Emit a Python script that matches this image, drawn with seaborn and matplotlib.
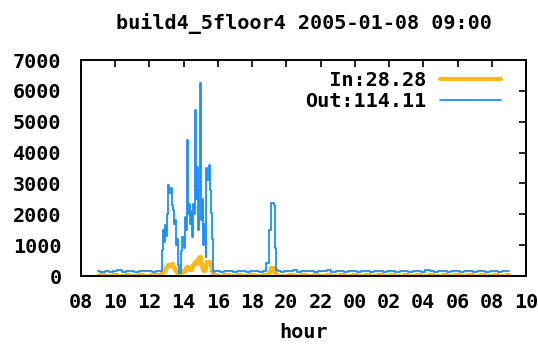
import pandas as pd
import numpy as np
import matplotlib.pyplot as plt
import seaborn as sns

# hours since midnight of 2005-01-08 (values > 24 are the next day)
hours = [9.0, 9.25, 9.5, 9.75, 10.0, 10.25, 10.5, 10.75, 11.0, 11.25, 11.5, 11.75,
         12.0, 12.25, 12.5, 12.65,
         12.76, 12.82, 12.88, 12.94, 13.0, 13.06, 13.12, 13.2, 13.26, 13.32,
         13.38, 13.44, 13.5, 13.56, 13.62, 13.7, 13.8, 13.9, 13.96, 14.02,
         14.08, 14.14, 14.2, 14.26, 14.32, 14.38, 14.44, 14.5, 14.56, 14.62,
         14.66, 14.72, 14.78, 14.84, 14.9, 14.96, 15.02, 15.08, 15.14, 15.2,
         15.26, 15.3, 15.36, 15.42, 15.48, 15.54, 15.6, 15.66, 15.72, 15.85,
         16.0, 16.25, 16.5, 16.75, 17.0, 17.25, 17.5, 17.75, 18.0, 18.25, 18.5, 18.75,
         18.9, 19.05, 19.2, 19.3, 19.35, 19.45, 19.6, 19.75,
         20.0, 20.25, 20.5, 20.75, 21.0, 21.25, 21.5, 21.75, 22.0, 22.25, 22.5, 22.75,
         23.0, 23.25, 23.5, 23.75, 24.0, 24.25, 24.5, 24.75, 25.0, 25.25, 25.5, 25.75,
         26.0, 26.25, 26.5, 26.75, 27.0, 27.25, 27.5, 27.75, 28.0, 28.25, 28.5, 28.75,
         29.0, 29.25, 29.5, 29.75, 30.0, 30.25, 30.5, 30.75, 31.0, 31.25, 31.5, 31.75,
         32.0, 32.25, 32.5, 32.75, 33.0]

out_kb = [150, 130, 170, 140, 160, 180, 140, 150, 170, 140, 160, 150,
          170, 140, 150, 160,
          840, 1500, 1100, 1650, 1300, 2000, 2950, 2700, 2850, 2300,
          2140, 1700, 1800, 1000, 1200, 360, 110, 800, 1270, 900,
          1920, 1500, 4400, 2000, 2340, 1700, 2100, 1270, 2340, 2000,
          5380, 2500, 3540, 1480, 2800, 6240, 1800, 2500, 1000, 1700,
          1200, 630, 3500, 3100, 3600, 2800, 2030, 1200, 120, 150,
          160, 140, 150, 170, 140, 150, 160, 140, 150, 170, 140, 160,
          420, 1490, 2360, 2300, 900, 200, 150, 140,
          160, 150, 190, 140, 160, 150, 170, 140, 160, 150, 180, 140,
          150, 160, 140, 150, 170, 140, 150, 160, 140, 150, 170, 140,
          160, 150, 140, 170, 150, 140, 160, 150, 140, 180, 150, 140,
          160, 150, 140, 170, 150, 140, 160, 150, 140, 170, 150, 140,
          160, 150, 140, 170, 150]

in_kb = [10, 20, 10, 15, 20, 10, 15, 20, 10, 15, 20, 10,
         15, 20, 10, 30,
         100, 150, 120, 200, 250, 300, 360, 330, 350, 380,
         300, 250, 200, 150, 100, 60, 30, 100, 150, 120,
         200, 250, 300, 250, 200, 250, 200, 280, 350, 400,
         450, 400, 450, 550, 500, 600, 400, 300, 200, 150,
         200, 250, 400, 460, 450, 420, 300, 150, 60, 20,
         10, 15, 20, 10, 15, 20, 10, 15, 20, 10, 15, 20,
         40, 120, 260, 230, 100, 30, 15, 10,
         15, 20, 10, 15, 20, 10, 15, 20, 10, 15, 20, 10,
         15, 20, 10, 15, 20, 10, 15, 20, 10, 15, 20, 10,
         15, 20, 10, 15, 20, 10, 15, 20, 10, 15, 20, 10,
         15, 20, 10, 15, 20, 10, 15, 20, 10, 15, 20, 10,
         15, 20, 10, 15, 20]

x_ticks = [8, 10, 12, 14, 16, 18, 20, 22, 24, 26, 28, 30, 32, 34]
x_labels = ["08", "10", "12", "14", "16", "18", "20", "22", "00", "02", "04", "06", "08", "10"]
y_ticks = [0, 1000, 2000, 3000, 4000, 5000, 6000, 7000]

sns.set_style("white")
plt.rcParams['font.family'] = ['DejaVu Sans Mono']
plt.rcParams['font.weight'] = 'bold'
plt.rcParams['text.color'] = 'black'
plt.rcParams['axes.labelcolor'] = 'black'

df = pd.DataFrame({"hour": hours, "out": out_kb, "in": in_kb})

fig = plt.figure(figsize=(5.38, 3.45), dpi=100)
ax = fig.add_axes([81 / 538, 1 - 276 / 345, 445 / 538, 216 / 345])

sns.lineplot(data=df, x="hour", y="in", color="#ffb81c", linewidth=3.0,
             drawstyle="steps-mid", label="  In:28.28", ax=ax)
sns.lineplot(data=df, x="hour", y="out", color="#1e8fff", linewidth=1.3,
             drawstyle="steps-mid", label="Out:114.11", ax=ax)

ax.set_xlim(8, 34)
ax.set_ylim(0, 7000)
ax.set_xticks(x_ticks)
ax.set_xticklabels(x_labels)
ax.set_yticks(y_ticks)
ax.tick_params(direction="in", length=5, width=1.2, top=True, right=True,
               labelsize=14.5, colors="black")
ax.tick_params(axis="x", pad=12)
ax.tick_params(axis="y", pad=14)
for s in ax.spines.values():
    s.set_color("black")
    s.set_linewidth(1.4)

ax.set_xlabel("hour", fontsize=14.5, fontweight="bold", labelpad=8)
ax.set_ylabel("")
ax.set_title("build4_5floor4 2005-01-08 09:00", fontsize=14.5, fontweight="bold", pad=22)

leg = ax.legend(loc="upper right", frameon=False, markerfirst=False, fontsize=14.5,
                handlelength=3.0, handletextpad=0.7, borderaxespad=0.85, labelspacing=0.1,
                bbox_to_anchor=(1.0, 1.065))

fig.savefig("out.png", dpi=100)
